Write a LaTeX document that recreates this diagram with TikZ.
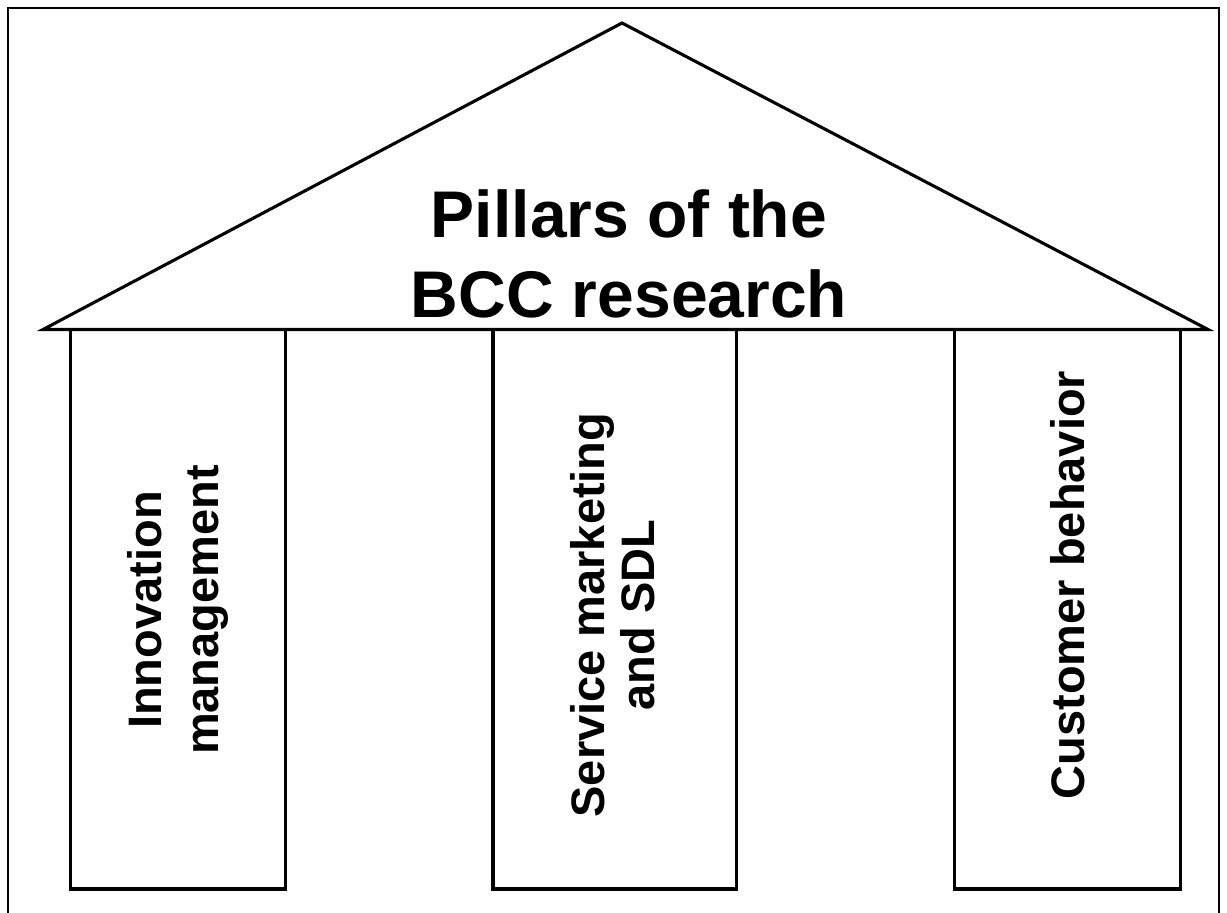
\documentclass[tikz,border=0pt]{standalone}
\usepackage{fontspec}
\setmainfont{Liberation Sans}
\begin{document}
\begin{tikzpicture}[x=1pt,y=-1pt,
  frameline/.style={line width=2pt},
  houseline/.style={line width=3.1pt,line join=miter},
  pillarbox/.style={houseline},
  pillartext/.style={rotate=90,inner sep=0pt,align=center,font=\bfseries}]
  % page extent
  \useasboundingbox (0,0) rectangle (1227,913);
  \fill[white] (0,0) rectangle (1227,913);
  % outer frame, open at the bottom
  \draw[frameline] (7.5,913) -- (7.5,8) -- (1219,8) -- (1219,913);
  % roof
  \coordinate (apex) at (622,23);
  \coordinate (eaveL) at (43,329.5);
  \coordinate (eaveR) at (1208,329.5);
  \draw[houseline] (eaveL) -- (apex) -- (eaveR) -- cycle;
  % pillars
  \draw[pillarbox] (70.5,329.5) rectangle (285.5,889);
  \draw[pillarbox] (493,329.5) rectangle (736.5,889);
  \draw[pillarbox] (954.5,329.5) rectangle (1180.5,889);
  % labels
  \node[inner sep=0pt,align=center,font=\bfseries\fontsize{66}{80}\selectfont]
    (title) at (629,254) {Pillars of the\\BCC research};
  \node[pillartext,font=\bfseries\fontsize{47}{57}\selectfont]
    (p1) at (177.5,610) {Innovation\\management};
  \node[pillartext,font=\bfseries\fontsize{47}{50}\selectfont]
    (p2) at (612.5,615) {Service marketing\\and SDL};
  \node[pillartext,font=\bfseries\fontsize{47}{57}\selectfont]
    (p3) at (1067.5,585) {Customer behavior};
\end{tikzpicture}
\end{document}
